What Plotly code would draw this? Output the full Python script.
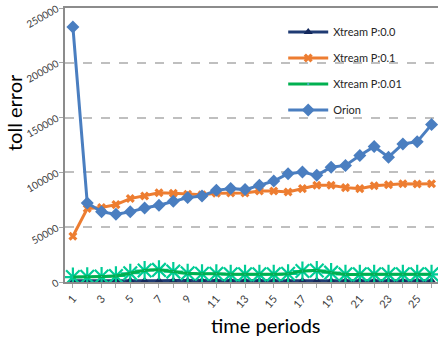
import plotly.graph_objects as go

# time periods 1..26
periods = list(range(1, 27))
tick_vals = list(range(1, 27, 2))
tick_text = [str(v) for v in tick_vals]
y_ticks = [0, 50000, 100000, 150000, 200000, 250000]

xtream_p00 = [1200, 1100, 1200, 1200, 1300, 1200, 1200, 1300, 1200, 1200, 1200, 1200, 1200,
              1200, 1200, 1200, 1200, 1300, 1200, 1200, 1200, 1200, 1200, 1200, 1200, 1200]
xtream_p01 = [41800, 67000, 67900, 70600, 76100, 78500, 81500, 81000, 80000, 79500, 81000, 81200, 81200,
              83000, 83000, 82100, 85200, 88200, 88200, 86100, 85200, 87900, 88800, 89700, 89400, 89700]
xtream_p001 = [4500, 4800, 5000, 5500, 8000, 10500, 11000, 9500, 8000, 7500, 7500, 7000, 7000,
               7000, 7000, 7500, 10000, 10500, 8500, 7000, 7000, 7000, 7000, 7000, 7000, 7000]
orion = [232700, 72100, 64000, 61800, 64000, 67500, 70000, 73600, 77000, 78500, 83600, 85200, 84300,
         88200, 92100, 98800, 100300, 97300, 104800, 106400, 115500, 123600, 113900, 126000, 128000, 143600]

FONT = "Lato"

fig = go.Figure()

fig.add_trace(go.Scatter(
    x=periods, y=xtream_p00, name="Xtream P:0.0", mode="lines+markers",
    line=dict(color="#1F3B73", width=3),
    marker=dict(symbol="triangle-up", size=8, color="#14285C"),
    legendgroup="a",
))
fig.add_trace(go.Scatter(
    x=periods, y=xtream_p01, name="Xtream P:0.1", mode="lines+markers",
    line=dict(color="#ED7D31", width=3),
    marker=dict(symbol="x", size=8, color="#ED7D31"),
    legendgroup="b",
))
# star markers of the P:0.01 run
fig.add_trace(go.Scatter(
    x=periods, y=xtream_p001, mode="markers", showlegend=False, hoverinfo="skip",
    marker=dict(symbol="asterisk-open", size=16, line=dict(color="#4BACC6", width=2.2)),
))
fig.add_trace(go.Scatter(
    x=periods, y=xtream_p001, name="Xtream P:0.01", mode="lines+markers",
    line=dict(color="#00B050", width=3, shape="spline"),
    marker=dict(symbol="square", size=1, color="#4BACC6"),
    legendgroup="c",
))
fig.add_trace(go.Scatter(
    x=periods, y=orion, name="Orion", mode="lines+markers",
    line=dict(color="#4A7EC0", width=3),
    marker=dict(symbol="diamond", size=10, color="#4A7EC0"),
    legendgroup="d",
))

# white panel behind the legend
fig.add_shape(type="rect", xref="paper", yref="y", x0=0.528, x1=1.0, y0=137000, y1=249000,
              fillcolor="white", line=dict(width=0), layer="between")

fig.add_annotation(text="time periods", xref="paper", yref="paper", x=0.54, y=0,
                   yshift=-43, showarrow=False, yanchor="middle",
                   font=dict(family=FONT, size=20, color="#000000"))
fig.add_annotation(text="toll error", xref="paper", yref="paper", x=0, y=0.5,
                   xshift=-51, yshift=32, showarrow=False, textangle=-90, xanchor="center",
                   font=dict(family=FONT, size=20, color="#000000"))

fig.update_layout(
    width=438, height=338,
    margin=dict(l=65, r=0, t=8, b=56),
    paper_bgcolor="white", plot_bgcolor="white",
    font=dict(family=FONT, size=10, color="#595959"),
    showlegend=True,
    legend=dict(x=0.585, y=0.965, xanchor="left", yanchor="top",
                bgcolor="rgba(0,0,0,0)", font=dict(family=FONT, size=11, color="#262626"),
                tracegroupgap=7, itemwidth=40),
    xaxis=dict(range=[0.45, 26.45], tickmode="array", tickvals=tick_vals, ticktext=tick_text,
               tickangle=-50, showgrid=False, zeroline=False,
               showline=True, linecolor="#8C8C8C", linewidth=2, mirror=True,
               ticks="outside", ticklen=4, tickcolor="#A6A6A6",
               minor=dict(dtick=1, ticks="outside", ticklen=4, tickcolor="#A6A6A6"),
               tickfont=dict(family=FONT, size=11, color="#404040")),
    yaxis=dict(range=[0, 250000], tickmode="array", tickvals=y_ticks,
               ticktext=[str(v) for v in y_ticks], tickangle=-30,
               showgrid=True, gridcolor="#BFBFBF", griddash="dash", gridwidth=1.5,
               zeroline=False, showline=True, linecolor="#8C8C8C", linewidth=2,
               ticks="outside", ticklen=4, tickcolor="#A6A6A6",
               tickfont=dict(family=FONT, size=10, color="#404040")),
)

fig.write_html("out.html")
